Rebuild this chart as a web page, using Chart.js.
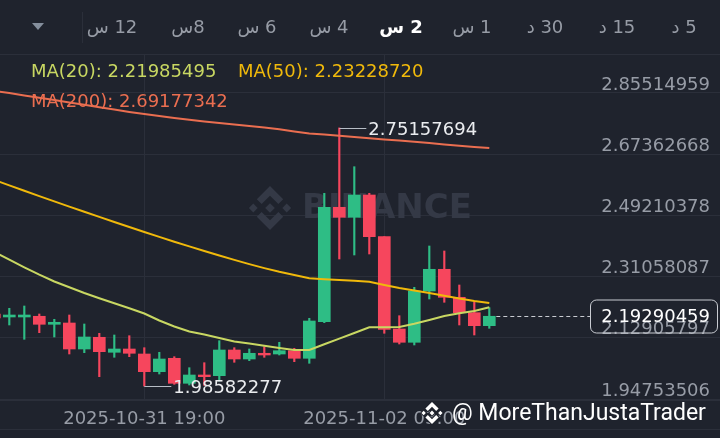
<!DOCTYPE html>
<html>
<head>
<meta charset="utf-8">
<script src="https://cdn.jsdelivr.net/npm/chart.js@4.4.1/dist/chart.umd.min.js"></script>
<style>
  html, body { margin: 0; padding: 0; background: #1f232d; }
  #wrap { width: 720px; height: 438px; }
</style>
</head>
<body>
<div id="wrap"><canvas id="plot" width="720" height="438"></canvas></div>
<script>
// 2h candles, oldest first (index 0 is cut by the left edge)
const opens = [2.19966, 2.19077, 2.19077, 2.19290, 2.16911, 2.17297, 2.09585, 2.13056, 2.08607, 2.09585,
  2.08102, 2.02853, 2.06827, 1.99412, 2.01874, 2.01666, 2.09289, 2.06619, 2.08310, 2.08102,
  2.09081, 2.06827, 2.17683, 2.51614, 2.48648, 2.55262, 2.42894, 2.15517, 2.11573, 2.26788,
  2.33224, 2.24920, 2.20352, 2.16496];
const highs = [2.20400, 2.21657, 2.22339, 2.19966, 2.18394, 2.19670, 2.17000, 2.14242, 2.13738, 2.13530,
  2.09971, 2.08607, 2.07302, 2.04039, 2.05522, 2.12047, 2.09971, 2.09585, 2.10268, 2.11573,
  2.09793, 2.18691, 2.55766, 2.75157694, 2.63656, 2.55766, 2.42894, 2.19462, 2.27886, 2.40135,
  2.38652, 2.28568, 2.23615, 2.21835];
const lows = [2.18400, 2.16704, 2.12462, 2.14420, 2.13145, 2.08102, 2.08488, 2.01370, 2.07124, 2.07302,
  1.98582277, 2.02170, 1.99115, 1.98908, 1.98800, 2.00094, 2.05641, 2.06115, 2.07124, 2.07806,
  2.05818, 2.05344, 2.17386, 2.36279, 2.37466, 2.37762, 2.14242, 2.11068, 2.10772, 2.24415,
  2.23437, 2.16704, 2.13738, 2.15725];
const closes = [2.18780, 2.19670, 2.19670, 2.16911, 2.17505, 2.09585, 2.13145, 2.08785, 2.09585, 2.08310,
  2.02853, 2.06619, 1.99412, 2.01874, 2.01370, 2.09289, 2.06619, 2.08310, 2.07806, 2.09081,
  2.06827, 2.17890, 2.51614, 2.48648, 2.55262, 2.42894, 2.15428, 2.11573, 2.26788, 2.33224,
  2.24920, 2.20352, 2.16496, 2.19290459];

const ma20 = [2.38356, 2.36072, 2.33818, 2.31623, 2.29606, 2.27886, 2.26195, 2.24623, 2.23140, 2.21657,
  2.20115, 2.18038, 2.16259, 2.14776, 2.13886, 2.12848, 2.11810, 2.11217, 2.10535, 2.09882,
  2.09289, 2.09289, 2.10979, 2.12670, 2.14331, 2.16022, 2.16022, 2.16111, 2.17060, 2.18187,
  2.19373, 2.20174, 2.20856, 2.21985495];
const ma50 = [2.59711, 2.58109, 2.56508, 2.54936, 2.53364, 2.51821, 2.50279, 2.48766, 2.47254, 2.45771,
  2.44288, 2.42834, 2.41411, 2.40017, 2.38652, 2.37317, 2.36012, 2.34767, 2.33580, 2.32483,
  2.31534, 2.30555, 2.30258, 2.30051, 2.29843, 2.29547, 2.28568, 2.27678, 2.26936, 2.26195,
  2.25394, 2.24564, 2.23822, 2.23228720];
const ma200 = [2.8617, 2.8549, 2.8480, 2.8412, 2.8344, 2.8273, 2.8202, 2.8130, 2.8059, 2.7991,
  2.7929, 2.7869, 2.7813, 2.7760, 2.7709, 2.7662, 2.7617, 2.7573, 2.7525, 2.7475,
  2.7410, 2.7353, 2.7318, 2.7282, 2.7246, 2.7211, 2.7175, 2.7140, 2.7104, 2.7066,
  2.7027, 2.6985, 2.6950, 2.69177342];

const yTicks = [1.94753506, 2.12905797, 2.31058087, 2.49210378, 2.67362668, 2.85514959];
const xTickIdx = [10, 26];
const xTickLabels = ['2025-10-31 19:00', '2025-11-02 03:00'];
const intervals = ['12 س', '8س', '6 س', '4 س', '2 س', '1 س', '30 د', '15 د', '5 د'];
const activeInterval = '2 س';

const BG = '#1f232d';
const GRID = '#2b2f3a';
const UP = '#2ebd85';
const DOWN = '#f6465d';
const C20 = '#c8d762';
const C50 = '#f0b90b';
const C200 = '#ea6e50';
const FONT = '"DejaVu Sans", sans-serif';

Chart.defaults.font.family = FONT;
Chart.defaults.font.size = 18;
Chart.defaults.color = '#979ca6';

const idx = opens.map((_, i) => i);
const candleColor = idx.map(i => closes[i] >= opens[i] ? UP : DOWN);
const intervalX = [112, 188, 257, 329, 401, 472, 545, 617, 684];

function bnbLogo(ctx, cx, cy, s, fill, stroke) {
  const shapes = [
    [[0, -0.22], [0.22, 0], [0, 0.22], [-0.22, 0]],
    [[-0.76, -0.2], [-0.56, 0], [-0.76, 0.2], [-0.96, 0]],
    [[0.76, -0.2], [0.96, 0], [0.76, 0.2], [0.56, 0]],
    [[0, -1], [0.6, -0.4], [0.38, -0.18], [0, -0.56], [-0.38, -0.18], [-0.6, -0.4]],
    [[0, 1], [0.6, 0.4], [0.38, 0.18], [0, 0.56], [-0.38, 0.18], [-0.6, 0.4]]
  ];
  ctx.save();
  ctx.fillStyle = fill;
  shapes.forEach(pts => {
    ctx.beginPath();
    pts.forEach(([px, py], k) => k ? ctx.lineTo(cx + px * s, cy + py * s) : ctx.moveTo(cx + px * s, cy + py * s));
    ctx.closePath();
    if (stroke) { ctx.strokeStyle = stroke; ctx.lineWidth = 2; ctx.stroke(); }
    ctx.fill();
  });
  ctx.restore();
}

const decor = {
  id: 'decor',
  beforeDraw(chart) {
    const {ctx, width, height} = chart;
    ctx.save();
    ctx.fillStyle = BG;
    ctx.fillRect(0, 0, width, height);
    ctx.restore();
  },
  beforeDatasetsDraw(chart) {
    const {ctx} = chart;
    bnbLogo(ctx, 270, 208, 22, '#343946');
    ctx.save();
    ctx.fillStyle = '#343946';
    ctx.font = 'bold 34px ' + FONT;
    ctx.textBaseline = 'middle';
    ctx.fillText('BINANCE', 302, 209);
    ctx.restore();
  },
  afterDraw(chart) {
    const {ctx, scales: {x, y}} = chart;
    ctx.save();
    // frame lines
    ctx.strokeStyle = GRID;
    ctx.lineWidth = 1;
    [54.5, 400.5, 429.5].forEach(py => {
      ctx.beginPath(); ctx.moveTo(0, py); ctx.lineTo(720, py); ctx.stroke();
    });
    ctx.beginPath(); ctx.moveTo(82.5, 12); ctx.lineTo(82.5, 43); ctx.stroke();

    // interval toolbar
    ctx.fillStyle = '#848e9c';
    ctx.beginPath(); ctx.moveTo(32, 23); ctx.lineTo(44, 23); ctx.lineTo(38, 30); ctx.closePath(); ctx.fill();
    ctx.textBaseline = 'middle';
    ctx.textAlign = 'center';
    ctx.direction = 'rtl';
    intervals.forEach((t, k) => {
      const on = t === activeInterval;
      ctx.font = (on ? 'bold ' : '') + '18px ' + FONT;
      ctx.fillStyle = on ? '#ffffff' : '#979ca6';
      ctx.fillText(t, intervalX[k], 28);
    });
    ctx.direction = 'ltr';

    // MA legend
    ctx.textAlign = 'left';
    ctx.font = '18px ' + FONT;
    const last = a => a[a.length - 1].toFixed(8);
    ctx.fillStyle = C20; ctx.fillText('MA(20): ' + last(ma20), 31, 72);
    ctx.fillStyle = C50; ctx.fillText('MA(50): ' + last(ma50), 238, 72);
    ctx.fillStyle = C200; ctx.fillText('MA(200): ' + last(ma200), 31, 102);

    // highest high / lowest low markers
    const hi = highs.indexOf(Math.max(...highs));
    const lo = lows.indexOf(Math.min(...lows));
    ctx.strokeStyle = '#b7bdc6';
    ctx.fillStyle = '#eaecef';
    [[hi, highs[hi]], [lo, lows[lo]]].forEach(([i, v]) => {
      const px = x.getPixelForValue(i), py = Math.round(y.getPixelForValue(v)) + 0.5;
      ctx.beginPath(); ctx.moveTo(px, py); ctx.lineTo(px + 27, py); ctx.stroke();
      ctx.fillText(v.toFixed(8), px + 29, py + 2);
    });

    // last price line and tag
    const n = closes.length - 1;
    const lp = Math.round(y.getPixelForValue(closes[n])) + 0.5;
    ctx.setLineDash([4, 3]);
    ctx.strokeStyle = '#c9ccd2';
    ctx.beginPath(); ctx.moveTo(x.getPixelForValue(n) + 7, lp); ctx.lineTo(590, lp); ctx.stroke();
    ctx.setLineDash([]);
    ctx.beginPath();
    ctx.roundRect(590.5, lp - 16.5, 127, 33, 6);
    ctx.strokeStyle = '#c9ccd2';
    ctx.stroke();
    ctx.textAlign = 'right';
    ctx.fillStyle = '#ffffff';
    ctx.fillText(closes[n].toFixed(8), 710, lp + 1);

    // author watermark
    bnbLogo(ctx, 432, 413, 11, '#ffffff', BG);
    ctx.textAlign = 'left';
    ctx.font = '23px Roboto, sans-serif';
    ctx.fillStyle = '#ffffff';
    ctx.fillText('@ MoreThanJustaTrader', 452, 414);
    ctx.restore();
  }
};

const config = {
  type: 'bar',
  data: {
    datasets: [
      { label: 'MA(20)', type: 'line', data: idx.map(i => ({x: i, y: ma20[i]})), borderColor: C20,
        borderWidth: 2, pointRadius: 0, tension: 0, order: 1 },
      { label: 'MA(50)', type: 'line', data: idx.map(i => ({x: i, y: ma50[i]})), borderColor: C50,
        borderWidth: 2, pointRadius: 0, tension: 0, order: 1 },
      { label: 'MA(200)', type: 'line', data: idx.map(i => ({x: i, y: ma200[i]})), borderColor: C200,
        borderWidth: 2, pointRadius: 0, tension: 0, order: 1 },
      { label: 'body', data: idx.map(i => ({x: i, y: [opens[i], closes[i]]})), backgroundColor: candleColor,
        barThickness: 12, grouped: false, minBarLength: 1, order: 2 },
      { label: 'wick', data: idx.map(i => ({x: i, y: [lows[i], highs[i]]})), backgroundColor: candleColor,
        barThickness: 1.5, grouped: false, order: 3 }
    ]
  },
  options: {
    responsive: false,
    animation: false,
    devicePixelRatio: 1,
    layout: { padding: { top: 54, bottom: 9, left: 0, right: 0 } },
    plugins: { legend: { display: false }, tooltip: { enabled: false } },
    scales: {
      x: {
        type: 'linear', min: 0.38, max: 48.38, offset: false,
        grid: { color: GRID, drawTicks: false, offset: false },
        border: { display: false },
        afterBuildTicks: s => { s.ticks = xTickIdx.map(v => ({value: v})); },
        afterFit: s => { s.height = 29; },
        ticks: { autoSkip: false, maxRotation: 0, padding: 9,
          callback: v => xTickLabels[xTickIdx.indexOf(v)] || '' }
      },
      y: {
        type: 'linear', position: 'right', min: 1.94457, max: 2.97082,
        grid: { color: GRID, drawTicks: false },
        border: { display: false },
        afterBuildTicks: s => { s.ticks = yTicks.map(v => ({value: v})); },
        afterFit: s => { s.width = 0; },
        ticks: { mirror: true, padding: -10, labelOffset: -8, callback: v => v.toFixed(8) }
      }
    }
  },
  plugins: [decor]
};

const myChart = new Chart(document.getElementById('plot'), config);
</script>
</body>
</html>
